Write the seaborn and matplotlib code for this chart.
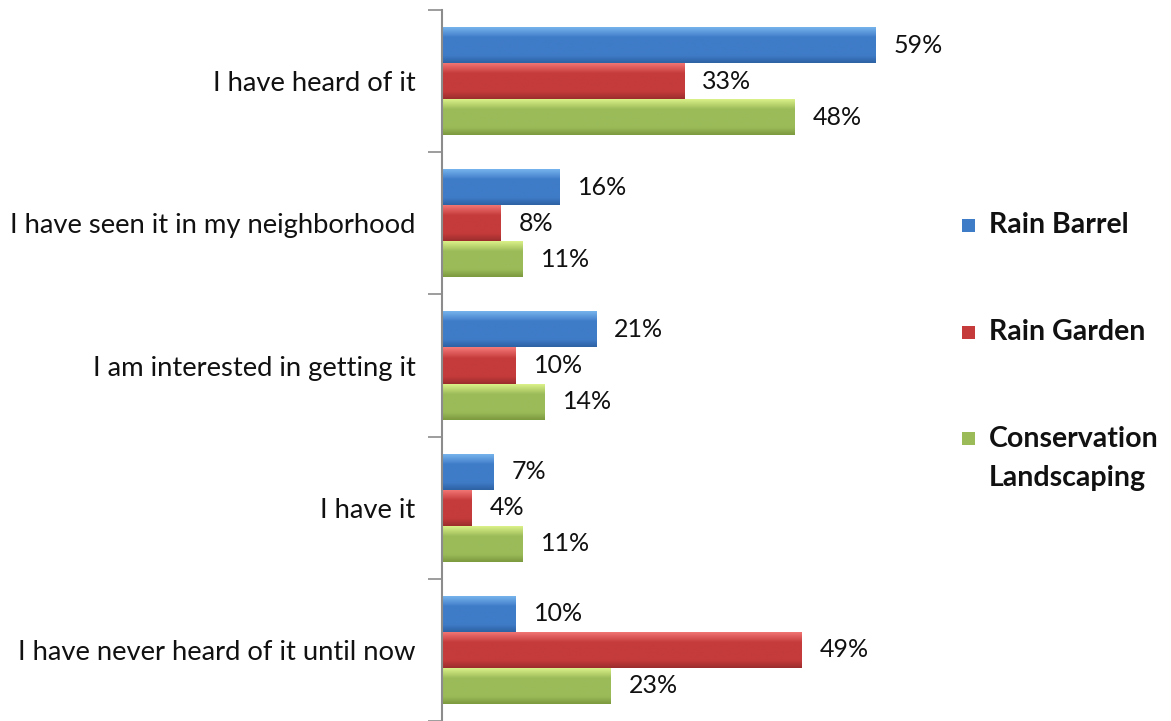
import numpy as np
import pandas as pd
import matplotlib
matplotlib.use("Agg")
import matplotlib.pyplot as plt
import seaborn as sns
from matplotlib.colors import LinearSegmentedColormap
from matplotlib.patches import Rectangle

categories = [
    "I have heard of it",
    "I have seen it in my neighborhood",
    "I am interested in getting it",
    "I have it",
    "I have never heard of it until now",
]
series = ["Rain Barrel", "Rain Garden", "Conservation\nLandscaping"]
rain_barrel = [59, 16, 21, 7, 10]
rain_garden = [33, 8, 10, 4, 49]
conservation = [48, 11, 14, 11, 23]

colors = ["#3f7cc8", "#c53b3b", "#9bbb59"]
# top highlight, middle, bottom shade for the glossy fill
shades = [
    ("#7ab8f0", "#3f7cc8", "#2e62a3"),
    ("#f47a78", "#c53b3b", "#9c2d2d"),
    ("#e0f58c", "#9bbb59", "#7c9a3e"),
]

df = pd.DataFrame({
    "category": np.repeat(categories, 3),
    "series": series * len(categories),
    "value": np.ravel(np.column_stack([rain_barrel, rain_garden, conservation])),
})

sns.set_theme(style="white")
plt.rcParams["font.family"] = ["Lato", "DejaVu Sans"]

fig = plt.figure(figsize=(11.71, 7.21), dpi=100)
ax = fig.add_axes([442 / 1171, 0.0, 514 / 1171, 711 / 721])

sns.barplot(data=df, y="category", x="value", hue="series", order=categories,
            hue_order=series, palette=colors, orient="h", width=0.76,
            ax=ax, legend=False, saturation=1)

ax.set_xlim(0, 70)
ax.set_ylim(len(categories) - 0.5, -0.5)


def glossy(patch, idx):
    x0, y0 = patch.get_x(), patch.get_y()
    w, h = patch.get_width(), patch.get_height()
    cmap = LinearSegmentedColormap.from_list(
        "g", [(0, shades[idx][0]), (0.3, shades[idx][1]),
              (0.8, shades[idx][1]), (1, shades[idx][2])])
    grad = np.linspace(0, 1, 64).reshape(-1, 1)
    im = ax.imshow(grad, cmap=cmap, aspect="auto",
                   extent=(x0, x0 + w, y0 + h, y0),
                   zorder=patch.get_zorder() + 0.1, interpolation="bicubic")
    im.set_clip_path(patch)
    patch.set_edgecolor("none")


# glossy gradient inside every bar
for idx, cont in enumerate(ax.containers):
    for patch in cont.patches:
        if patch.get_width() > 0:
            glossy(patch, idx)

# value labels
for cont in ax.containers:
    ax.bar_label(cont, labels=[f"{v:.0f}%" for v in cont.datavalues],
                 padding=13, fontsize=18, color="#111111")

ax.set_xlabel("")
ax.set_ylabel("")
ax.set_xticks([])
ax.tick_params(axis="y", which="major", length=0, labelsize=19.7, pad=19,
               labelcolor="#111111")
ax.set_yticks(np.arange(-0.5, len(categories) + 0.5, 1), minor=True)
ax.tick_params(axis="y", which="minor", left=True, length=10, width=1.2,
               color="#8c8c8c", direction="out")
for s in ["top", "right", "bottom"]:
    ax.spines[s].set_visible(False)
ax.spines["left"].set_color("#8c8c8c")
ax.spines["left"].set_linewidth(1.5)

# legend: small squares with bold labels to the right of the bars
legend_y = [225, 332, 439]
for idx, (name, y) in enumerate(zip(series, legend_y)):
    fy = 1 - y / 721
    fig.patches.append(Rectangle((962 / 1171, fy - 6.5 / 721), 13 / 1171, 13 / 721,
                                 transform=fig.transFigure, facecolor=colors[idx],
                                 edgecolor="none"))
    fig.text(989 / 1171, fy + 13 / 721, name, ha="left", va="top",
             fontsize=20.5, fontweight="bold", color="#111111",
             linespacing=1.6)

fig.savefig("out.png", dpi=100)
